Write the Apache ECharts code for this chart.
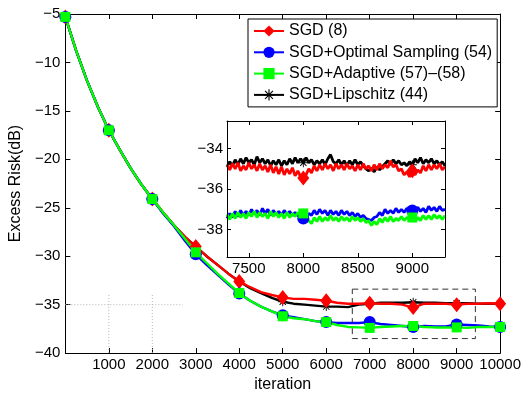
<!DOCTYPE html>
<html><head><meta charset="utf-8">
<script src="https://cdn.jsdelivr.net/npm/echarts@6/dist/echarts.min.js"></script>
<style>html,body{margin:0;padding:0;background:#fff}#c{width:524px;height:398px}</style>
</head><body><div id="c"></div>
<script>
const FONT = '"Liberation Sans", Arial, Helvetica, sans-serif';
const seriesNames = ['SGD (8)', 'SGD+Optimal Sampling (54)', 'SGD+Adaptive (57)\u2013(58)', 'SGD+Lipschitz (44)'];

// main plot data (every 250 iterations)
const iterMain = [0,250,500,750,1000,1250,1500,1750,2000,2250,2500,2750,3000,3250,3500,3750,4000,4250,4500,4750,5000,5250,5500,5750,6000,6250,6500,6750,7000,7250,7500,7750,8000,8250,8500,8750,9000,9250,9500,9750,10000];
const sgdMain = [-5.3,-8.8,-11.9,-14.6,-17.0,-19.0,-20.9,-22.6,-24.1,-25.5,-26.8,-28.0,-29.0,-30.0,-30.9,-31.8,-32.6,-33.2,-33.7,-34.0,-34.25,-34.4,-34.4,-34.5,-34.6,-34.8,-34.9,-34.9,-34.85,-34.9,-34.9,-35.0,-35.3,-34.9,-34.9,-34.9,-35.0,-34.9,-34.9,-34.85,-34.9];
const optMain = [-5.3,-8.8,-11.9,-14.6,-17.0,-19.0,-20.9,-22.6,-24.1,-25.6,-26.9,-28.4,-29.8,-30.9,-31.9,-32.9,-33.85,-34.6,-35.2,-35.7,-36.1,-36.3,-36.5,-36.7,-36.8,-36.9,-36.9,-36.9,-36.8,-37.0,-37.1,-37.2,-37.3,-37.2,-37.25,-37.25,-37.05,-37.1,-37.15,-37.25,-37.3];
const adaMain = [-5.3,-8.8,-11.9,-14.6,-17.0,-19.0,-20.9,-22.6,-24.1,-25.5,-26.8,-28.2,-29.6,-30.7,-31.8,-32.8,-33.8,-34.6,-35.2,-35.7,-36.2,-36.4,-36.5,-36.7,-36.8,-37.1,-37.3,-37.35,-37.4,-37.3,-37.25,-37.2,-37.2,-37.3,-37.35,-37.35,-37.35,-37.4,-37.3,-37.3,-37.3];
const lipMain = [-5.3,-8.8,-11.9,-14.6,-17.0,-19.0,-20.9,-22.6,-24.1,-25.5,-26.8,-28.0,-29.0,-30.0,-30.9,-31.8,-32.6,-33.3,-33.8,-34.3,-34.7,-34.9,-35.0,-35.1,-35.2,-35.2,-35.25,-35.0,-34.9,-34.8,-34.8,-34.8,-34.75,-34.8,-34.8,-34.85,-34.85,-34.85,-34.9,-34.9,-34.9];

// inset data (every 25 iterations, 7300..9300)
const iterInset = [7300,7325,7350,7375,7400,7425,7450,7475,7500,7525,7550,7575,7600,7625,7650,7675,7700,7725,7750,7775,7800,7825,7850,7875,7900,7925,7950,7975,8000,8025,8050,8075,8100,8125,8150,8175,8200,8225,8250,8275,8300,8325,8350,8375,8400,8425,8450,8475,8500,8525,8550,8575,8600,8625,8650,8675,8700,8725,8750,8775,8800,8825,8850,8875,8900,8925,8950,8975,9000,9025,9050,9075,9100,9125,9150,9175,9200,9225,9250,9275,9300];
const sgdInset = [-34.8,-35.05,-34.75,-35.0,-34.7,-35.1,-34.85,-35.05,-34.7,-35.0,-34.8,-35.1,-34.75,-35.05,-34.85,-35.15,-34.8,-35.2,-34.9,-35.25,-34.9,-35.3,-35.0,-35.25,-34.95,-35.35,-35.1,-35.4,-35.45,-35.3,-35.0,-35.2,-34.85,-35.1,-34.8,-35.05,-34.75,-35.0,-34.8,-35.1,-34.75,-35.0,-34.8,-35.05,-34.75,-35.0,-34.85,-35.1,-34.8,-35.05,-34.75,-35.0,-34.85,-35.1,-34.8,-35.05,-34.75,-35.0,-34.8,-34.95,-34.6,-34.9,-34.8,-35.1,-35.0,-35.3,-35.15,-35.4,-35.1,-35.3,-35.05,-35.2,-34.85,-35.1,-34.8,-35.05,-34.8,-35.0,-34.75,-35.05,-34.9];
const optInset = [-37.45,-37.2,-37.4,-37.1,-37.35,-37.05,-37.3,-37.1,-37.3,-37.0,-37.25,-37.05,-37.3,-36.95,-37.2,-37.0,-37.3,-37.05,-37.25,-37.1,-37.3,-37.05,-37.25,-37.1,-37.3,-37.15,-37.3,-37.35,-37.45,-37.4,-37.2,-37.3,-37.05,-37.25,-37.0,-37.2,-37.05,-37.3,-37.05,-37.25,-37.1,-37.3,-37.05,-37.25,-37.1,-37.3,-37.15,-37.35,-37.2,-37.4,-37.3,-37.45,-37.5,-37.55,-37.4,-37.35,-37.15,-37.3,-37.0,-37.2,-37.05,-37.2,-36.95,-37.15,-37.0,-37.15,-36.95,-37.05,-37.05,-37.1,-36.9,-37.1,-36.95,-37.15,-36.85,-37.05,-36.9,-37.1,-36.85,-37.05,-37.0];
const adaInset = [-37.25,-37.5,-37.2,-37.45,-37.15,-37.4,-37.2,-37.45,-37.15,-37.35,-37.1,-37.4,-37.15,-37.35,-37.2,-37.45,-37.1,-37.35,-37.15,-37.4,-37.2,-37.45,-37.15,-37.4,-37.2,-37.35,-37.15,-37.3,-37.2,-37.45,-37.55,-37.7,-37.4,-37.6,-37.35,-37.6,-37.4,-37.55,-37.3,-37.55,-37.4,-37.6,-37.35,-37.55,-37.4,-37.6,-37.35,-37.55,-37.4,-37.6,-37.45,-37.65,-37.55,-37.8,-37.6,-37.75,-37.45,-37.65,-37.4,-37.6,-37.35,-37.6,-37.45,-37.55,-37.35,-37.55,-37.4,-37.5,-37.4,-37.6,-37.4,-37.55,-37.3,-37.5,-37.3,-37.5,-37.25,-37.45,-37.3,-37.5,-37.3];
const lipInset = [-34.9,-34.65,-34.85,-34.55,-34.8,-34.5,-34.75,-34.45,-34.7,-34.55,-34.8,-34.4,-34.7,-34.5,-34.75,-34.55,-34.85,-34.6,-34.8,-34.55,-34.85,-34.6,-34.8,-34.5,-34.75,-34.45,-34.7,-34.5,-34.7,-34.45,-34.7,-34.55,-34.8,-34.6,-34.75,-34.55,-34.8,-34.5,-34.3,-34.65,-34.75,-34.55,-34.8,-34.6,-34.85,-34.6,-34.8,-34.55,-34.8,-34.65,-34.85,-35.0,-35.1,-34.95,-35.15,-34.9,-35.05,-34.9,-34.75,-34.6,-34.8,-34.55,-34.75,-34.6,-34.8,-34.7,-34.85,-34.65,-34.8,-34.5,-34.7,-34.45,-34.75,-34.55,-34.7,-34.5,-34.75,-34.6,-34.8,-34.65,-34.85];

// axis ticks
const insetXTicks = [7500, 8000, 8500, 9000];
const insetYTicks = [-38, -36, -34];

// annotation guides
const guideH = [[0, -35], [2700, -35]];
const guideV1 = [[1000, -34], [1000, -40]];
const guideV2 = [[2000, -34], [2000, -40]];
const zoomBox = [[6600, -33.4], [9430, -33.4], [9430, -38.5], [6600, -38.5], [6600, -33.4]];

const STAR = 'path://M-1,-10L1,-10L1,10L-1,10Z M-10,-1L10,-1L10,1L-10,1Z M-6.3,-7.7L7.7,6.3L6.3,7.7L-7.7,-6.3Z M6.3,-7.7L7.7,-6.3L-6.3,7.7L-7.7,6.3Z';

function pairs(xs, ys) { return xs.map((x, i) => [x, ys[i]]); }
function fmt(v) { return v < 0 ? '\u2212' + Math.abs(v) : String(v); }

const styles = [
  { color: '#ff0000', symbol: 'diamond', size: [12, 15] },
  { color: '#0000ff', symbol: 'circle', size: 12 },
  { color: '#00ff00', symbol: 'rect', size: 10 },
  { color: '#000000', symbol: STAR, size: 9 }
];
const mainData = [sgdMain, optMain, adaMain, lipMain];
const insetData = [sgdInset, optInset, adaInset, lipInset];
const drawOrder = [3, 0, 1, 2];

const series = [];
const guideStyle = { color: '#b4b4b4', width: 1, type: [1, 2] };
[guideH, guideV1, guideV2].forEach(g => series.push({
  type: 'line', xAxisIndex: 0, yAxisIndex: 0, data: g, symbol: 'none', silent: true,
  lineStyle: guideStyle, z: 1, animation: false
}));
series.push({
  type: 'line', xAxisIndex: 0, yAxisIndex: 0, data: zoomBox, symbol: 'none', silent: true,
  lineStyle: { color: '#333', width: 1, type: [6, 4] }, z: 1, animation: false
});

drawOrder.forEach(k => {
  const s = styles[k];
  const common = {
    name: seriesNames[k], type: 'line', symbol: s.symbol, showSymbol: true, showAllSymbol: true,
    color: s.color, itemStyle: { color: s.color, opacity: 1 },
    emphasis: { disabled: true }, animation: false
  };
  series.push(Object.assign({}, common, {
    xAxisIndex: 0, yAxisIndex: 0,
    data: pairs(iterMain, mainData[k]),
    symbolSize: v => (v[0] % 1000 === 0 ? s.size : 0),
    lineStyle: { color: s.color, width: 2.4 }, z: 3
  }));
  series.push(Object.assign({}, common, {
    xAxisIndex: 2, yAxisIndex: 2,
    data: pairs(iterInset, insetData[k]),
    symbolSize: v => (v[0] % 1000 === 0 ? s.size : 0),
    lineStyle: { color: s.color, width: 2.8 }, z: 5
  }));
});

const axLine = { show: true, onZero: false, lineStyle: { color: '#000', width: 1 } };
const tick = (len, extra) => Object.assign({ show: true, inside: true, length: len, lineStyle: { color: '#000', width: 1 } }, extra || {});
const lbl = (extra) => Object.assign({ color: '#000', fontSize: 15, fontFamily: FONT }, extra || {});

const option = {
  backgroundColor: '#fff',
  animation: false,
  grid: [
    { left: 61, top: 14, right: 23, bottom: 36, containLabel: false },
    { left: 227, top: 121, width: 218, height: 136, show: true, backgroundColor: '#fff', borderWidth: 0 }
  ],
  legend: {
    data: seriesNames, orient: 'vertical', left: 248, top: 19,
    backgroundColor: '#fff', borderColor: '#000', borderWidth: 1,
    padding: [4, 5, 4, 5], itemWidth: 30, itemHeight: 14, itemGap: 5.3,
    textStyle: { fontSize: 16, fontFamily: FONT, color: '#000', lineHeight: 14 },
    selectedMode: false, z: 10
  },
  xAxis: [
    { gridIndex: 0, type: 'value', min: 0, max: 10000, interval: 1000, position: 'bottom',
      axisLine: axLine, axisTick: tick(5), splitLine: { show: false },
      axisLabel: lbl({ margin: 4, formatter: v => (v === 0 ? '' : String(v)) }),
      name: 'iteration', nameLocation: 'middle', nameGap: 20,
      nameTextStyle: { fontSize: 16, fontFamily: FONT, color: '#000' } },
    { gridIndex: 0, type: 'value', min: 0, max: 10000, interval: 1000, position: 'top',
      axisLine: axLine, axisTick: tick(5), splitLine: { show: false }, axisLabel: { show: false } },
    { gridIndex: 1, type: 'value', min: 7300, max: 9300, position: 'bottom', z: 6,
      axisLine: axLine, axisTick: tick(4, { customValues: insetXTicks }), splitLine: { show: false },
      axisLabel: lbl({ margin: 4, customValues: insetXTicks, formatter: v => String(v) }) },
    { gridIndex: 1, type: 'value', min: 7300, max: 9300, position: 'top', z: 6,
      axisLine: axLine, axisTick: tick(4, { customValues: insetXTicks }), splitLine: { show: false },
      axisLabel: { show: false } }
  ],
  yAxis: [
    { gridIndex: 0, type: 'value', min: -40, max: -5, interval: 5, position: 'left',
      axisLine: axLine, axisTick: tick(5), splitLine: { show: false },
      axisLabel: lbl({ margin: 5, formatter: fmt }),
      name: 'Excess Risk(dB)', nameLocation: 'middle', nameGap: 33, nameRotate: 90,
      nameTextStyle: { fontSize: 16, fontFamily: FONT, color: '#000' } },
    { gridIndex: 0, type: 'value', min: -40, max: -5, interval: 5, position: 'right',
      axisLine: axLine, axisTick: tick(5), splitLine: { show: false }, axisLabel: { show: false } },
    { gridIndex: 1, type: 'value', min: -39.35, max: -32.64, position: 'left', z: 6,
      axisLine: axLine, axisTick: tick(4, { customValues: insetYTicks }), splitLine: { show: false },
      axisLabel: lbl({ margin: 4, customValues: insetYTicks, formatter: fmt }) },
    { gridIndex: 1, type: 'value', min: -39.35, max: -32.64, position: 'right', z: 6,
      axisLine: axLine, axisTick: tick(4, { customValues: insetYTicks }), splitLine: { show: false },
      axisLabel: { show: false } }
  ],
  series: series
};

const chart = echarts.init(document.getElementById('c'), null, { renderer: 'canvas' });
chart.setOption(option);
</script>
</body></html>
